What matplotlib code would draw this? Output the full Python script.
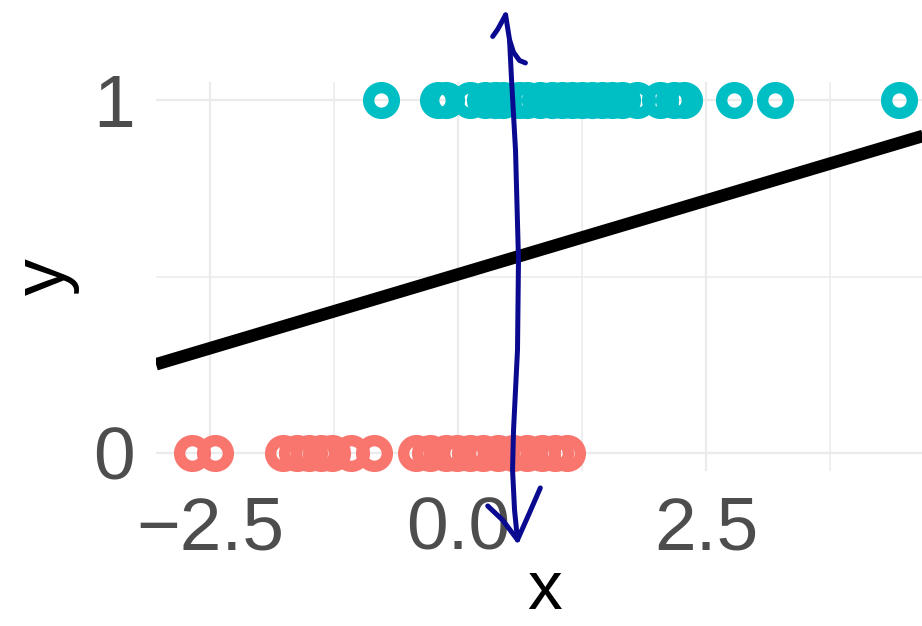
import matplotlib
matplotlib.use("Agg")
import matplotlib.pyplot as plt
import numpy as np

plt.rcParams['font.family'] = ['Liberation Sans', 'DejaVu Sans']

# ---- data ----
teal_x = [-0.78, -0.20, -0.12, 0.12, 0.27, 0.37, 0.45, 0.62, 0.70, 0.83, 0.95,
          1.05, 1.15, 1.25, 1.35, 1.45, 1.55, 1.65, 1.80, 2.04, 2.18, 2.28,
          2.78, 3.20, 4.45]
teal_y = [1] * len(teal_x)
salmon_x = [-2.68, -2.45, -1.76, -1.62, -1.50, -1.38, -1.27, -1.08, -0.85,
            -0.42, -0.28, -0.12, -0.01, 0.12, 0.25, 0.40, 0.55, 0.70, 0.85,
            0.98, 1.10]
salmon_y = [0] * len(salmon_x)
fit_intercept = 0.506
fit_slope = 0.0837
x_ticks = [-2.5, 0.0, 2.5]
x_tick_labels = ['\u22122.5', '0.0', '2.5']
y_ticks = [0, 1]
y_tick_labels = ['0', '1']

# hand-drawn arrow annotation (data coordinates)
arrow_shaft_x = [0.48, 0.52, 0.54, 0.58, 0.61, 0.60, 0.56, 0.55, 0.57, 0.60]
arrow_shaft_y = [1.241, 1.170, 1.057, 0.858, 0.547, 0.292, 0.065, -0.048, -0.161, -0.246]
arrow_top_left_x = [0.35, 0.40, 0.48]
arrow_top_left_y = [1.180, 1.200, 1.241]
arrow_top_right_x = [0.52, 0.56, 0.62, 0.68]
arrow_top_right_y = [1.170, 1.135, 1.112, 1.105]
arrow_bot_left_x = [0.30, 0.45, 0.60]
arrow_bot_left_y = [-0.150, -0.190, -0.246]
arrow_bot_right_x = [0.60, 0.72, 0.83]
arrow_bot_right_y = [-0.246, -0.170, -0.099]

W, H = 922, 626
fig = plt.figure(figsize=(W / 100, H / 100), dpi=100)
fig.patch.set_facecolor('white')
ax = fig.add_axes([156 / W, (H - 471) / H, 786 / W, 389 / H])
ax.set_facecolor('white')

ax.set_xlim(-3.044, 4.879)
ax.set_ylim(-0.051, 1.051)

# grid
ax.set_xticks(x_ticks)
ax.set_xticklabels(x_tick_labels)
ax.set_yticks(y_ticks)
ax.set_yticklabels(y_tick_labels)
ax.set_xticks([-1.25, 1.25, 3.75], minor=True)
ax.set_yticks([0.5], minor=True)
ax.grid(True, which='major', color='#EBEBEB', lw=1.6, zorder=0)
ax.grid(True, which='minor', color='#EBEBEB', lw=1.1, zorder=0)
ax.set_axisbelow(True)
for s in ax.spines.values():
    s.set_visible(False)
ax.tick_params(which='both', length=0)
ax.tick_params(axis='x', pad=18, labelsize=54, labelcolor='#4D4D4D')
ax.tick_params(axis='y', pad=15, labelsize=54, labelcolor='#4D4D4D')

# points
ax.plot(salmon_x, salmon_y, 'o', mfc='none', mec='#F8766D', ms=18.5, mew=8.2,
        zorder=3)
ax.plot(teal_x, teal_y, 'o', mfc='none', mec='#00BFC4', ms=18.5, mew=8.2,
        zorder=3)

# fitted line
ax.axline((0, fit_intercept), slope=fit_slope, color='black', lw=9,
          solid_capstyle='butt', zorder=4)

# labels
ax.set_xlabel('x', fontsize=50, color='black')
ax.xaxis.label.set_va('baseline')
ax.xaxis.set_label_coords(0.495, (471 - 609) / 389)
ax.set_ylabel('y', fontsize=53, color='black')
ax.yaxis.label.set_va('center')
ax.yaxis.set_label_coords((45 - 156) / 786, 0.5)

# arrow annotation
acol = '#0A0A90'
for xs, ys in [(arrow_shaft_x, arrow_shaft_y),
               (arrow_top_left_x, arrow_top_left_y),
               (arrow_top_right_x, arrow_top_right_y),
               (arrow_bot_left_x, arrow_bot_left_y),
               (arrow_bot_right_x, arrow_bot_right_y)]:
    ax.plot(xs, ys, color=acol, lw=3.6, solid_capstyle='round',
            solid_joinstyle='round', clip_on=False, zorder=6)

fig.savefig('out.png', dpi=100)
